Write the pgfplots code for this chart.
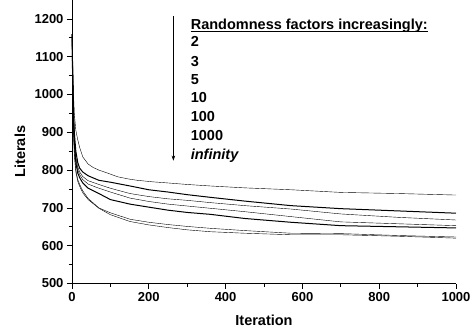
\documentclass[border=0pt]{standalone}
\usepackage{fontspec}
\setmainfont{Liberation Sans}
\usepackage{pgfplots}
\pgfplotsset{compat=1.18}
\usetikzlibrary{arrows.meta}
\begin{document}
\begin{tikzpicture}
\begin{axis}[
 scale only axis, width=384pt, height=283.5pt,
 xmin=0, xmax=1000, ymin=500, ymax=1250,
 axis x line*=bottom, axis y line*=left,
 axis line style={line width=0.8pt,-},
 xtick={0,200,...,1000}, ytick={500,600,...,1200},
 minor x tick num=1, minor y tick num=1,
 tick align=outside,
 major tick length=5pt, minor tick length=3pt,
 every tick/.style={black, line width=0.8pt},
 ticklabel style={font=\bfseries\fontsize{13}{13}\selectfont},
 /pgf/number format/assume math mode=true,
 /pgf/number format/1000 sep={},
 xlabel={Iteration}, ylabel={Literals},
 every axis x label/.style={at={([yshift=-37pt]axis description cs:0.5,0)}, anchor=center, font=\bfseries\fontsize{14.5}{14.5}\selectfont},
 every axis y label/.style={at={([xshift=-52pt]axis description cs:0,0.465)}, anchor=center, rotate=90, font=\bfseries\fontsize{14.5}{14.5}\selectfont},
 cycle list={{black, line width=1pt, no marks}},
]
\addplot coordinates {(0,1160) (2,1080) (4,1000) (6,950) (10,905) (15,880) (20,860) (28,835) (42,816) (55,807) (70,800) (90,793) (120,782) (150,776) (170,773) (210,769) (250,766) (300,762) (360,758) (450,753) (570,748) (700,741) (850,738) (1000,734)};
\addplot coordinates {(0,1160) (2,1050) (4,960) (6,900) (10,850) (15,820) (20,805) (28,795) (42,785) (70,773) (100,768) (151,758) (200,748) (250,742) (300,735) (360,728) (450,718) (570,706) (700,698) (850,692) (1000,686)};
\addplot coordinates {(0,1160) (2,1040) (4,950) (6,890) (10,835) (15,808) (20,795) (28,783) (42,772) (70,762) (100,752) (151,738) (200,730) (250,724) (300,720) (360,714) (450,706) (570,697) (700,684) (850,675) (1000,668)};
\addplot coordinates {(0,1160) (2,1030) (4,940) (6,880) (10,828) (15,800) (20,788) (28,775) (42,763) (70,752) (100,742) (151,726) (200,717) (250,710) (300,705) (360,699) (450,690) (570,677) (700,663) (850,658) (1000,653)};
\addplot coordinates {(0,1160) (2,1020) (4,930) (6,870) (10,820) (15,792) (20,780) (28,766) (42,752) (70,738) (100,722) (151,710) (200,702) (250,694) (300,688) (360,683) (450,672) (570,662) (700,653) (850,650) (1000,647)};
\addplot coordinates {(0,1160) (2,1010) (4,910) (6,850) (10,800) (15,775) (20,762) (28,745) (42,725) (70,700) (100,687) (151,670) (200,662) (250,656) (300,651) (360,646) (450,640) (570,633) (700,632) (850,627) (1000,623)};
\addplot coordinates {(0,1160) (2,1000) (4,900) (6,840) (10,795) (15,770) (20,757) (28,740) (42,722) (70,699) (100,682) (151,664) (200,655) (250,648) (300,642) (360,637) (450,633) (570,629) (700,629) (850,625) (1000,620)};
\begin{scope}[every node/.style={anchor=base west, inner sep=0pt, font=\bfseries\fontsize{14.5}{14.5}\selectfont}]
\node at (axis cs:309,1172.5) {Randomness factors increasingly:};
\draw[line width=0.9pt] (axis cs:309,1166) -- (axis cs:928,1166);
\node at (axis cs:309,1125.7) {2};
\node at (axis cs:309,1075.4) {3};
\node at (axis cs:309,1027) {5};
\node at (axis cs:309,978.3) {10};
\node at (axis cs:309,928) {100};
\node at (axis cs:309,877) {1000};
\node at (axis cs:309,828.6) {\itshape infinity};
\end{scope}
\draw[-{Stealth[length=5pt,width=3.5pt]}, line width=0.6pt] (axis cs:264,1208) -- (axis cs:264,825);
\end{axis}
\pgfresetboundingbox
\path (-72pt,-46.3pt) rectangle (400pt,283.5pt);
\end{tikzpicture}
\end{document}
